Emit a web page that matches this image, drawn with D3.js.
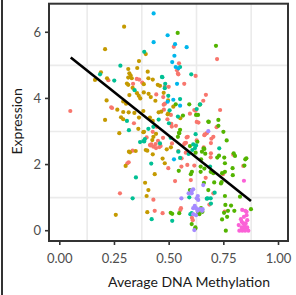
<!DOCTYPE html>
<html>
<head>
<meta charset="utf-8">
<script src="https://cdn.jsdelivr.net/npm/d3@7"></script>
<style>
  body { margin: 0; background: #fff; }
  svg { display: block; font-family: Lato, "Open Sans", sans-serif; }
  .grid line { stroke: #ebebeb; stroke-width: 1.6px; }
  .tick-label { fill: #4d4d4d; font-size: 13px; }
  .axis-title { fill: #1a1a1a; font-size: 14px; }
</style>
</head>
<body>
<svg width="296" height="295"></svg>
<script>
// methylation / expression pairs, one array per cluster
var grpRed = [
  [0.048,3.62],[0.222,4.55],[0.239,3.71],[0.352,4.59],[0.363,4.57],[0.377,4.48],[0.335,4.44],
  [0.480,4.35],[0.498,4.35],[0.441,4.12],[0.473,4.04],[0.481,3.84],[0.235,3.73],[0.476,3.66],
  [0.492,3.37],[0.521,5.56],[0.719,5.19],[0.536,4.85],[0.542,4.73],[0.621,4.68],[0.569,4.44],
  [0.668,4.11],[0.656,3.93],[0.621,3.63],[0.733,3.65],[0.508,3.50],[0.595,3.54],[0.626,3.29],
  [0.545,5.06],[0.540,4.75],[0.475,3.81],[0.615,3.65],[0.510,3.23],[0.512,3.15],[0.717,3.13],
  [0.672,2.95],[0.663,2.91],[0.693,2.78],[0.691,2.65],[0.626,2.73],[0.577,2.66],[0.585,2.84],
  [0.531,3.17],[0.472,2.81],[0.449,2.72],[0.428,2.54],[0.416,2.58],[0.440,2.50],[0.513,2.64],
  [0.418,2.61],[0.455,2.53],[0.572,2.65],[0.542,2.41],[0.658,2.52],[0.556,1.94],[0.557,2.19],
  [0.690,2.22],[0.691,2.34],[0.615,1.97],[0.527,1.50],[0.428,0.94],[0.434,0.60],[0.470,0.53],
  [0.554,0.68],[0.551,0.63],[0.604,0.39],[0.608,0.32],[0.702,1.13],[0.793,2.30],[0.839,1.96],
  [0.746,1.71],[0.754,0.58],[0.580,2.82],[0.634,3.27],[0.661,2.89],[0.702,2.84],[0.569,2.62],
  [0.576,2.36],[0.496,1.89],[0.583,1.99],[0.599,1.53],[0.667,1.60],[0.684,0.79],[0.339,3.25],
  [0.397,2.82],[0.412,2.59],[0.438,2.62],[0.461,2.56],[0.333,2.42],[0.315,2.07],[0.309,2.04],
  [0.275,1.13],[0.443,3.14],[0.425,2.99]
];
var grpGold = [
  [0.294,6.17],[0.207,5.49],[0.188,4.79],[0.161,4.56],[0.216,4.61],[0.214,3.94],[0.207,3.35],
  [0.393,5.34],[0.362,5.13],[0.354,4.92],[0.313,4.89],[0.402,4.81],[0.318,4.76],[0.324,4.69],
  [0.313,4.63],[0.329,4.61],[0.405,4.61],[0.425,4.57],[0.307,4.45],[0.313,4.41],[0.384,4.43],
  [0.448,4.41],[0.458,4.38],[0.333,4.32],[0.353,4.16],[0.384,4.18],[0.318,4.10],[0.361,4.08],
  [0.406,4.14],[0.416,4.04],[0.475,4.17],[0.290,3.91],[0.303,3.84],[0.368,4.00],[0.437,3.93],
  [0.495,3.94],[0.263,3.66],[0.290,3.59],[0.315,3.58],[0.341,3.56],[0.382,3.62],[0.452,3.58],
  [0.464,3.60],[0.496,3.55],[0.280,3.43],[0.290,3.37],[0.362,3.42],[0.412,3.42],[0.425,3.32],
  [0.519,3.75],[0.493,3.52],[0.551,3.40],[0.440,2.93],[0.428,2.84],[0.423,2.74],[0.385,2.99],
  [0.393,2.44],[0.425,2.31],[0.508,2.52],[0.470,2.18],[0.480,2.04],[0.390,1.45],[0.434,1.71],
  [0.400,0.56],[0.489,2.46],[0.272,2.95],[0.382,2.98],[0.359,3.08],[0.400,2.42],[0.316,2.39],
  [0.321,2.37],[0.347,2.41],[0.301,1.96],[0.405,1.23],[0.397,1.05],[0.256,0.48]
];
var grpLime = [
  [0.539,5.98],[0.714,5.59],[0.592,3.82],[0.530,3.82],[0.640,3.81],[0.623,3.50],[0.632,3.50],
  [0.563,3.48],[0.679,3.30],[0.725,3.35],[0.681,3.29],[0.748,2.99],[0.763,2.73],[0.658,2.49],
  [0.546,2.95],[0.540,2.84],[0.629,2.69],[0.650,2.39],[0.621,2.36],[0.544,1.81],[0.604,1.78],
  [0.599,1.71],[0.728,2.27],[0.720,2.21],[0.665,2.33],[0.646,2.16],[0.644,1.94],[0.644,1.78],
  [0.661,1.88],[0.795,2.34],[0.801,2.26],[0.752,2.21],[0.853,2.19],[0.844,1.97],[0.742,1.74],
  [0.755,1.78],[0.791,1.68],[0.507,0.54],[0.514,0.51],[0.546,0.53],[0.603,0.20],[0.620,0.07],
  [0.757,0.78],[0.783,0.76],[0.751,0.54],[0.769,0.60],[0.798,0.60],[0.742,0.34],[0.759,0.00],
  [0.874,0.65],[0.755,2.04],[0.848,2.16],[0.790,1.89],[0.737,1.43],[0.755,1.05],[0.765,0.42],
  [0.824,1.03],[0.545,2.96],[0.550,3.05],[0.725,3.17],[0.595,2.56],[0.690,1.78],[0.702,1.74],
  [0.659,1.45],[0.706,1.46],[0.740,1.47],[0.679,1.23],[0.638,0.50],[0.633,0.54],[0.620,0.10],
  [0.646,0.68],[0.650,0.63],[0.652,0.57],[0.595,1.23],[0.661,2.47]
];
var grpTeal = [
  [0.184,4.73],[0.249,4.54],[0.277,4.99],[0.386,5.41],[0.467,4.65],[0.482,4.44],[0.342,4.25],
  [0.496,4.08],[0.307,3.32],[0.452,3.36],[0.550,4.95],[0.601,4.73],[0.550,3.98],[0.502,3.64],
  [0.626,3.68],[0.540,3.45],[0.469,4.64],[0.642,3.82],[0.507,2.81],[0.428,3.14],[0.729,2.49],
  [0.623,2.58],[0.610,2.61],[0.386,2.70],[0.458,2.64],[0.618,2.50],[0.550,2.20],[0.589,2.32],
  [0.418,2.03],[0.687,1.94],[0.420,0.35],[0.514,0.30],[0.603,0.53],[0.676,0.98],[0.691,0.82],
  [0.499,3.25],[0.621,2.92],[0.542,2.39],[0.606,2.44],[0.708,1.15],[0.592,1.01],[0.672,0.97],
  [0.690,0.98],[0.597,0.50],[0.316,3.04],[0.405,3.08],[0.367,2.68],[0.382,2.71],[0.389,2.77],
  [0.348,1.61],[0.333,0.98],[0.480,4.31]
];
var grpBlue = [
  [0.429,6.57],[0.429,5.70],[0.493,5.91],[0.527,5.64],[0.580,5.55],[0.524,5.29],[0.514,5.10],
  [0.530,4.95],[0.542,4.91],[0.536,4.44],[0.519,3.96],[0.493,3.90],[0.550,3.78],[0.522,2.16]
];
var grpPurple = [
  [0.679,3.01],[0.556,0.98],[0.589,1.13],[0.603,1.13],[0.610,1.25],[0.626,0.98],[0.633,0.93],
  [0.610,0.68],[0.617,0.75],[0.623,0.68],[0.635,0.64],[0.651,0.60],[0.656,1.38],[0.603,1.21],
  [0.631,1.05],[0.641,0.65],[0.653,0.65],[0.610,0.50],[0.623,0.47],[0.615,0.02],[0.629,0.60]
];
var grpPink = [
  [0.842,1.51],[0.834,0.63],[0.848,0.60],[0.854,0.47],[0.842,0.42],[0.832,0.27],[0.857,0.32],
  [0.850,0.22],[0.818,0.17],[0.832,0.10],[0.847,0.07],[0.857,0.10],[0.821,0.00],[0.834,0.00],
  [0.847,0.00],[0.862,0.00],[0.839,0.22],[0.854,0.57],[0.828,0.35],[0.845,0.15]
];

var groups = [grpRed, grpGold, grpLime, grpTeal, grpBlue, grpPurple, grpPink];
var colors = ['#F8766D', '#C49A00', '#53B400', '#00C094', '#00B6EB', '#A58AFF', '#FB61D7'];

var xTicks = [0, 0.25, 0.5, 0.75, 1];
var xTickLabels = ['0.00', '0.25', '0.50', '0.75', '1.00'];
var yTicks = [0, 2, 4, 6];
var xGrid = [0.125, 0.375, 0.625, 0.875];
var yGrid = [1, 3, 5];

// linear fit
var fitX = [0.05, 0.874];
var fitY = [5.24, 0.90];

var svg = d3.select('svg');
var pLeft = 49, pRight = 288, pTop = 3.7, pBottom = 241;

var x = d3.scaleLinear().domain([-0.0494, 1.0434]).range([pLeft, pRight]);
var y = d3.scaleLinear().domain([-0.311, 6.864]).range([pBottom, pTop]);

// figure frame line on the left edge
svg.append('line')
  .attr('x1', 2).attr('x2', 2).attr('y1', 0).attr('y2', 295)
  .attr('stroke', '#333').attr('stroke-width', 2);

var grid = svg.append('g').attr('class', 'grid');
grid.selectAll('line.v').data(xGrid).enter().append('line')
  .attr('x1', d => x(d)).attr('x2', d => x(d))
  .attr('y1', pTop).attr('y2', pBottom);
grid.selectAll('line.h').data(yGrid).enter().append('line')
  .attr('x1', pLeft).attr('x2', pRight)
  .attr('y1', d => y(d)).attr('y2', d => y(d));

// points
groups.forEach(function(g, i) {
  svg.append('g').selectAll('circle').data(g).enter().append('circle')
    .attr('cx', d => x(d[0]))
    .attr('cy', d => y(d[1]))
    .attr('r', 2.1)
    .attr('fill', colors[i]);
});

// fit line
svg.append('path')
  .datum(d3.zip(fitX, fitY))
  .attr('d', d3.line().x(d => x(d[0])).y(d => y(d[1])))
  .attr('stroke', '#000').attr('stroke-width', 2.6).attr('fill', 'none');

// panel border
svg.append('rect')
  .attr('x', pLeft).attr('y', pTop)
  .attr('width', pRight - pLeft).attr('height', pBottom - pTop)
  .attr('fill', 'none').attr('stroke', '#333').attr('stroke-width', 2);

// x ticks
svg.selectAll('line.xt').data(xTicks).enter().append('line')
  .attr('x1', d => x(d)).attr('x2', d => x(d))
  .attr('y1', pBottom + 1).attr('y2', pBottom + 4)
  .attr('stroke', '#333').attr('stroke-width', 1.6);
svg.selectAll('text.xl').data(xTicks).enter().append('text')
  .attr('class', 'tick-label')
  .attr('x', d => x(d)).attr('y', 263.3)
  .attr('text-anchor', 'middle')
  .text((d, i) => xTickLabels[i]);

// y ticks
svg.selectAll('line.yt').data(yTicks).enter().append('line')
  .attr('x1', pLeft - 4).attr('x2', pLeft - 1)
  .attr('y1', d => y(d)).attr('y2', d => y(d))
  .attr('stroke', '#333').attr('stroke-width', 1.6);
svg.selectAll('text.yl').data(yTicks).enter().append('text')
  .attr('class', 'tick-label')
  .attr('x', 41).attr('y', d => y(d) + 4.6)
  .attr('text-anchor', 'end')
  .text(d => d);

svg.append('text').attr('class', 'axis-title')
  .attr('x', 189).attr('y', 286.5)
  .attr('text-anchor', 'middle')
  .text('Average DNA Methylation');

svg.append('text').attr('class', 'axis-title')
  .attr('transform', 'translate(22,' + ((pTop + pBottom) / 2 - 1) + ') rotate(-90)')
  .attr('text-anchor', 'middle')
  .text('Expression');
</script>
</body>
</html>
